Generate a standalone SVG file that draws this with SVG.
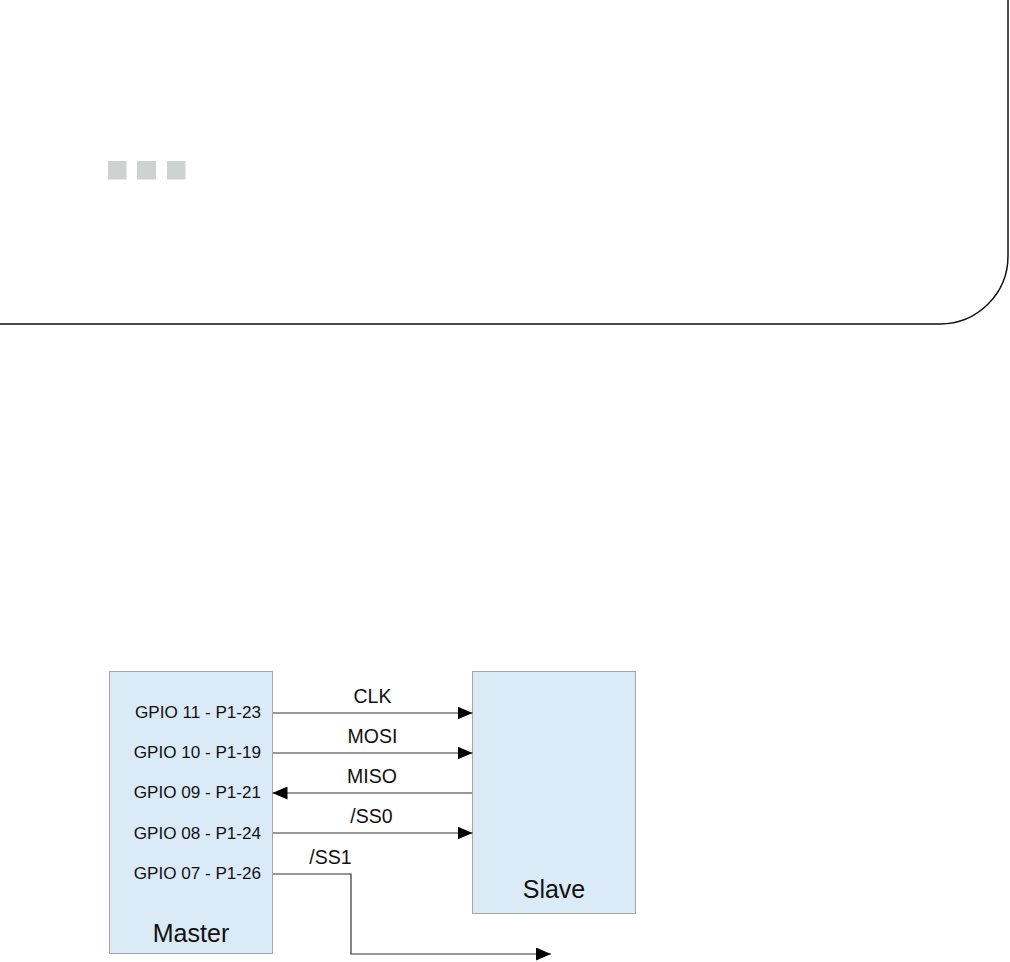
<svg xmlns="http://www.w3.org/2000/svg" width="1010" height="962" viewBox="0 0 1010 962">
<style>
.box{fill:#daeaf6;stroke:#a3a8ab;stroke-width:1}
.pin{font-family:"Liberation Sans",Arial,sans-serif;font-size:17.1px;fill:#111;text-anchor:end}
.sig{font-family:"Liberation Sans",Arial,sans-serif;font-size:19.5px;fill:#111;text-anchor:middle}
.title{font-family:"Liberation Sans",Arial,sans-serif;font-size:25px;fill:#111;text-anchor:middle}
.wire{fill:none;stroke:#333;stroke-width:1.2}
.sq{fill:#d0d2d1}
</style>
<defs>
<marker id="arr" viewBox="0 0 15 13" refX="15" refY="6.5" markerWidth="15" markerHeight="13" markerUnits="userSpaceOnUse" orient="auto">
<path d="M0,0 L15,6.5 L0,13 Z" fill="#000"/>
</marker>
</defs>
<rect width="1010" height="962" fill="#fff"/>
<g id="panel">
<path d="M0,324 H940 A68,68 0 0 0 1008,256 V0" fill="none" stroke="#111" stroke-width="1.5"/>
<rect class="sq" x="108" y="161" width="18.5" height="18.5"/>
<rect class="sq" x="137" y="161" width="19" height="18.5"/>
<rect class="sq" x="167" y="161" width="18.5" height="18.5"/>
</g>
<g id="master">
<rect class="box" x="109.5" y="671.5" width="163" height="282"/>
<text class="pin" x="261" y="718">GPIO 11 - P1-23</text>
<text class="pin" x="261" y="758">GPIO 10 - P1-19</text>
<text class="pin" x="261" y="798">GPIO 09 - P1-21</text>
<text class="pin" x="261" y="838.5">GPIO 08 - P1-24</text>
<text class="pin" x="261" y="879">GPIO 07 - P1-26</text>
<text class="title" x="191" y="942">Master</text>
</g>
<g id="slave">
<rect class="box" x="472.5" y="671.5" width="163" height="242"/>
<text class="title" x="554" y="898">Slave</text>
</g>
<g id="connectors">
<path class="wire" d="M273,713 H472.5" marker-end="url(#arr)"/>
<path class="wire" d="M273,753 H472.5" marker-end="url(#arr)"/>
<path class="wire" d="M472,793 H272.5" marker-end="url(#arr)"/>
<path class="wire" d="M273,833 H472.5" marker-end="url(#arr)"/>
<path class="wire" d="M273,874 H351 V954 H551" marker-end="url(#arr)"/>
<text class="sig" x="372.5" y="703">CLK</text>
<text class="sig" x="372.5" y="743">MOSI</text>
<text class="sig" x="372" y="783">MISO</text>
<text class="sig" x="371.5" y="823">/SS0</text>
<text class="sig" x="330.5" y="864">/SS1</text>
</g>
</svg>
